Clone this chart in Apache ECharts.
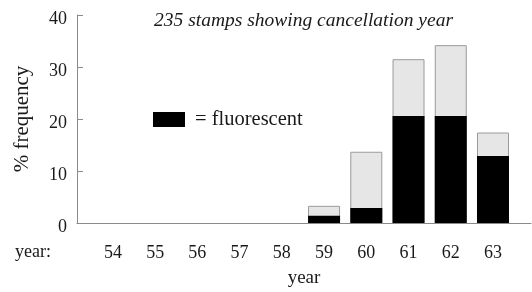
<!DOCTYPE html>
<html>
<head>
<meta charset="utf-8">
<script src="https://cdn.jsdelivr.net/npm/echarts@6/dist/echarts.min.js"></script>
<style>
  html, body { margin: 0; padding: 0; background: #fff; }
  #chart { width: 532px; height: 292px; }
</style>
</head>
<body>
<div id="chart"></div>
<script>
// 年份 (19xx)
const years = [54, 55, 56, 57, 58, 59, 60, 61, 62, 63];
// 全部邮票 %（浅灰柱的高度）
const total = [0, 0, 0, 0, 0, 3.3, 13.7, 31.5, 34.2, 17.4];
// 荧光邮票 %（黑色）
const fluorescent = [0, 0, 0, 0, 0, 1.4, 2.9, 20.6, 20.6, 12.9];
const yTicks = [0, 10, 20, 30, 40];

const serif = '"Liberation Serif", "DejaVu Serif", serif';
const textColor = '#1a1a1a';
const axisColor = '#8a8a8a';

// 0 值不画柱子
const toPoints = (vals) => years.map((y, i) => [y, vals[i] > 0 ? vals[i] : '-']);

const chart = echarts.init(document.getElementById('chart'));

const option = {
    animation: false,
    backgroundColor: '#fff',
    title: {
        text: '235 stamps showing cancellation year',
        left: 154,
        top: 11,
        padding: 0,
        textStyle: {
            fontFamily: serif,
            fontStyle: 'italic',
            fontWeight: 'normal',
            fontSize: 19.5,
            color: textColor
        }
    },
    legend: {
        data: ['fluorescent'],
        left: 153,
        top: 109,
        padding: 0,
        icon: 'rect',
        itemWidth: 32,
        itemHeight: 15,
        formatter: () => '= fluorescent',
        textStyle: {
            fontFamily: serif,
            fontSize: 20.5,
            color: textColor,
            padding: [0, 0, 0, 5]
        }
    },
    grid: {
        left: 77,
        right: 1,
        top: 15,
        bottom: 69,
        outerBoundsMode: 'none'
    },
    xAxis: {
        type: 'value',
        min: 53.15,
        max: 63.9,
        name: 'year',
        nameLocation: 'middle',
        nameGap: 46,
        nameTextStyle: {
            fontFamily: serif,
            fontSize: 19,
            color: textColor
        },
        axisLine: { show: true, lineStyle: { color: axisColor, width: 1 } },
        axisTick: { show: false },
        splitLine: { show: false },
        axisLabel: {
            customValues: years,
            margin: 21,
            fontFamily: serif,
            fontSize: 18,
            color: textColor
        }
    },
    yAxis: {
        type: 'value',
        min: 0,
        max: 40,
        interval: 10,
        name: '% frequency',
        nameLocation: 'middle',
        nameRotate: 90,
        nameGap: 44,
        nameTextStyle: {
            fontFamily: serif,
            fontSize: 21,
            color: textColor
        },
        axisLine: { show: true, lineStyle: { color: axisColor, width: 1 } },
        axisTick: { show: true, inside: true, length: 6, lineStyle: { color: axisColor } },
        splitLine: { show: false },
        axisLabel: {
            margin: 10,
            // 标签比刻度略低一点
            formatter: (v) => '{n|' + v + '}',
            rich: {
                n: {
                    fontFamily: serif,
                    fontSize: 18,
                    color: textColor,
                    padding: [8, 0, 0, 0]
                }
            }
        }
    },
    graphic: [
        {
            type: 'text',
            left: 15,
            top: 243,
            style: {
                text: 'year:',
                font: '18px ' + serif,
                fill: textColor
            }
        }
    ],
    series: [
        {
            name: 'all stamps',
            type: 'bar',
            barWidth: 32,
            barGap: '-100%',
            itemStyle: { color: '#e6e6e6', borderColor: '#9a9a9a', borderWidth: 1 },
            data: toPoints(total)
        },
        {
            name: 'fluorescent',
            type: 'bar',
            barWidth: 32,
            barGap: '-100%',
            itemStyle: { color: '#000' },
            data: toPoints(fluorescent)
        }
    ]
};

chart.setOption(option);
</script>
</body>
</html>
